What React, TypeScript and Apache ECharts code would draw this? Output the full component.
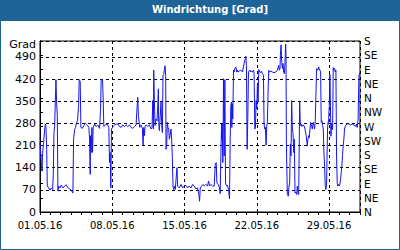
import React, { useEffect, useRef } from "react";
import * as echarts from "echarts";

const TITLE = "Windrichtung [Grad]";
const Y_NAME = "Grad";
const DATE_LABELS = ["01.05.16", "08.05.16", "15.05.16", "22.05.16", "29.05.16"];
const DIRECTIONS = ["N", "NE", "E", "SE", "S", "SW", "W", "NW", "N", "NE", "E", "SE", "S"];

// hours since 01.05.16 00:00
const hours = [
  0, 3.1, 4.6, 6.2, 8.5, 10.8, 12.4, 13.9, 15.5, 17.0, 20.1, 23.2, 26.3, 29.4, 31.0, 32.5, 34.0, 35.6, 37.1, 38.6,
  40.2, 41.7, 43.3, 46.4, 49.5, 53.3, 57.2, 61.1, 65.0, 68.8, 72.7, 76.5, 78.1, 80.4, 82.7, 85.0, 87.3, 89.7, 91.2, 93.5,
  95.1, 98.2, 102.0, 105.9, 109.8, 113.6, 115.2, 116.7, 117.5, 119.0, 120.6, 122.1, 123.7, 126.8, 130.6, 134.5, 138.4, 140.7, 142.2, 145.3,
  146.9, 148.4, 152.3, 156.1, 160.0, 161.6, 163.1, 164.7, 166.2, 170.1, 174.7, 180.9,
  184.8, 188.6, 192.5, 196.4, 200.2, 204.1, 208.0, 211.8, 215.7, 219.6, 223.4, 225.0, 227.3, 228.8, 230.4, 231.9, 235.0, 238.1,
  239.6, 241.2, 242.7, 244.3, 246.6, 250.5, 254.3, 258.2, 260.5, 262.1, 263.6, 264.4, 265.9, 267.5, 269.8, 272.1, 273.7, 275.2,
  276.0, 277.5, 279.1, 281.4, 283.0, 284.5, 286.0, 287.6, 289.1, 290.7, 292.2, 293.0, 294.5, 296.1, 297.6, 299.2, 300.7, 302.3,
  304.6, 306.1, 307.7, 309.2, 310.8, 312.3, 314.6, 316.2, 318.5, 320.0, 323.9, 327.8, 331.6, 335.5, 339.4, 343.2, 347.1, 351.0,
  354.8, 358.7, 362.6, 366.4, 369.5,
  371.0, 372.6, 375.7, 378.8, 381.9, 385.7, 389.6, 391.9, 394.2, 397.3, 401.2, 405.1, 407.4, 409.7, 411.2, 414.3, 417.4, 419.0,
  420.5, 422.1, 422.8, 423.6, 425.1, 426.7, 428.2, 429.8, 431.3, 433.7, 436.0, 438.3, 440.6, 442.2, 443.7, 445.2, 446.0, 446.8,
  448.3, 449.9, 451.4, 453.0, 455.3, 457.6, 459.2, 460.7, 463.0, 466.9, 470.8, 474.6, 478.5, 480.0, 481.6, 483.1, 484.7, 486.2,
  488.5, 490.1, 491.6, 494.0, 496.3, 497.8, 499.4, 500.9, 502.4, 504.0, 505.5, 507.1, 508.6, 510.9, 513.3, 514.8, 517.1, 519.5,
  521.0, 522.5, 524.1, 525.6, 527.2, 528.7, 530.3, 531.8, 534.1, 536.5, 540.3, 544.2, 548.1, 551.9, 555.0,
  556.5, 558.0, 558.9, 560.4, 562.0, 563.5, 565.0, 566.6, 568.1, 569.7, 571.2, 572.0, 572.8, 573.5, 575.1, 577.4, 579.0, 580.5,
  582.0, 583.6, 585.1, 586.7, 588.2, 589.8, 591.3, 592.9, 594.4, 596.7, 598.3, 599.8, 601.4, 602.9, 603.7, 605.2, 606.8, 609.1,
  611.4, 613.7, 616.1, 618.4, 619.9, 621.5, 623.0, 624.6, 626.1, 627.7, 629.2, 631.5, 633.1, 635.4, 636.9, 638.5, 640.0, 641.6,
  643.1, 644.7, 646.2, 647.8, 649.3, 650.8, 652.4, 653.9, 655.5, 657.0, 658.6, 660.1, 661.7, 663.2, 664.8, 666.3, 668.7, 671.0,
  672.6, 674.1, 676.4, 678.0, 680.3, 681.8, 683.3, 684.9, 686.4, 688.0, 689.5, 691.0, 692.6, 694.1, 695.7, 697.2, 698.8, 700.3,
  701.9, 703.4, 705.0, 706.5, 708.0, 709.6, 711.1, 714.2, 718.1, 722.0, 725.8, 729.7, 733.6, 735.9, 737.4, 739.5, 741.5, 743.5,
];

// wind direction in degrees (values above 360 continue the scale)
const directions = [
  220, 156, 129, 188, 220, 262, 278, 270, 198, 82, 76, 69, 76, 71, 124, 251, 270, 347, 418, 347,
  304, 66, 82, 76, 85, 76, 82, 86, 76, 73, 69, 60, 230, 260, 267, 283, 288, 336, 418, 412,
  267, 264, 273, 280, 275, 267, 230, 119, 241, 188, 267, 188, 267, 278, 270, 275, 264, 320, 418, 420,
  357, 270, 275, 278, 267, 156, 188, 76, 262, 270, 277, 278,
  270, 267, 275, 270, 275, 270, 275, 267, 264, 270, 275, 315, 362, 304, 283, 267, 275, 264,
  211, 267, 241, 270, 275, 270, 275, 262, 267, 352, 262, 448, 352, 273, 294, 288, 336, 389,
  283, 257, 294, 347, 273, 251, 432, 434, 448, 462, 432, 198, 209, 283, 267, 262, 230, 241,
  262, 230, 172, 82, 71, 82, 71, 103, 140, 82, 76, 87, 76, 82, 84, 76, 82, 76,
  87, 82, 73, 76, 55,
  34, 76, 82, 87, 82, 87, 82, 98, 82, 87, 82, 82, 151, 156, 92, 87, 76, 58,
  177, 278, 230, 278, 156, 421, 177, 418, 92, 82, 84, 71, 41, 230, 336, 347, 267, 342,
  294, 448, 442, 453, 458, 442, 448, 442, 445, 448, 442, 469, 492, 463, 198, 294, 442, 446,
  448, 442, 445, 442, 448, 437, 262, 267, 352, 326, 400, 347, 450, 442, 440, 445, 437, 432,
  278, 262, 267, 211, 273, 283, 379, 447, 442, 445, 442, 440, 442, 448, 463,
  448, 453, 495, 528, 474, 453, 469, 442, 437, 474, 530, 485, 230, 167, 55, 50, 82, 92,
  214, 177, 352, 262, 251, 188, 230, 60, 63, 55, 82, 60, 55, 230, 347, 273, 278, 270,
  275, 273, 262, 246, 246, 209, 230, 241, 235, 262, 283, 270, 262, 283, 273, 262, 288, 288,
  453, 453, 448, 458, 453, 453, 442, 283, 288, 273, 262, 188, 145, 82, 71, 92, 270, 292,
  334, 435, 239, 281, 260, 456, 448, 453, 442, 448, 177, 92, 82, 87, 82, 87, 103, 124,
  145, 182, 209, 230, 262, 270, 275, 278, 278, 275, 278, 275, 270, 278, 267, 290, 430, 440,
];

const FONT = "DejaVu Sans";
const BLUE_FRAME = "#1f6496";

export default function App() {
  const ref = useRef<HTMLDivElement>(null);

  useEffect(() => {
    if (!ref.current) return;
    const chart = echarts.init(ref.current, undefined, { renderer: "svg" });
    const data = hours.map((h, i) => [h, directions[i]]);

    chart.setOption({
      animation: false,
      backgroundColor: "#ffffff",
      title: {
        text: TITLE,
        left: 152,
        top: 4,
        padding: 0,
        textStyle: { color: "#ffffff", fontFamily: FONT, fontSize: 10, fontWeight: "bold" },
      },
      graphic: [
        { type: "rect", z: -1, shape: { x: 0, y: 0, width: 400, height: 21 }, style: { fill: BLUE_FRAME } },
        {
          type: "rect",
          z: 100,
          shape: { x: 0.5, y: 0.5, width: 399, height: 249 },
          style: { fill: "none", stroke: BLUE_FRAME, lineWidth: 1 },
        },
        {
          type: "text",
          x: 36,
          y: 44,
          style: {
            text: Y_NAME,
            fill: "#000",
            font: `11px "${FONT}"`,
            textAlign: "right",
            textVerticalAlign: "middle",
          },
        },
      ],
      grid: {
        left: 40,
        top: 41,
        width: 320,
        height: 171,
        show: true,
        borderColor: "#000",
        borderWidth: 1,
        backgroundColor: "transparent",
      },
      xAxis: [
        {
          type: "value",
          min: 0,
          max: 744,
          interval: 168,
          axisLine: { show: true, lineStyle: { color: "#000", width: 1 } },
          axisTick: { show: false },
          axisLabel: {
            showMaxLabel: false,
            margin: 8,
            color: "#000",
            fontFamily: FONT,
            fontSize: 10,
            formatter: (v: number) => DATE_LABELS[Math.round(v / 168)] ?? "",
          },
          splitLine: { show: true, lineStyle: { color: "#000", type: [3, 3], width: 1 } },
        },
        {
          type: "value",
          position: "bottom",
          min: 0,
          max: 744,
          interval: 24,
          axisLine: { show: false },
          axisTick: { show: true, inside: false, length: 3, lineStyle: { color: "#000" } },
          axisLabel: { show: false },
          splitLine: { show: false },
        },
      ],
      yAxis: [
        {
          type: "value",
          min: 0,
          max: 540,
          interval: 70,
          position: "left",
          axisLine: { show: true, lineStyle: { color: "#000", width: 1 } },
          axisTick: { show: false },
          axisLabel: { showMaxLabel: false, margin: 4, color: "#000", fontFamily: FONT, fontSize: 11 },
          splitLine: { show: true, lineStyle: { color: "#000", type: [3, 3], width: 1 } },
        },
        {
          type: "value",
          min: 0,
          max: 540,
          interval: 45,
          position: "right",
          axisLine: { show: true, lineStyle: { color: "#000", width: 1 } },
          axisTick: { show: true, inside: false, length: 3, lineStyle: { color: "#000" } },
          axisLabel: {
            margin: 4,
            color: "#000",
            fontFamily: FONT,
            fontSize: 10.5,
            formatter: (v: number) => DIRECTIONS[Math.round(v / 45)] ?? "",
          },
          splitLine: { show: false },
        },
      ],
      series: [
        {
          type: "line",
          xAxisIndex: 0,
          yAxisIndex: 0,
          data,
          showSymbol: false,
          symbol: "none",
          lineStyle: { color: "#1414f0", width: 1 },
        },
      ],
    });

    return () => chart.dispose();
  }, []);

  return (
    <div
      ref={ref}
      style={{ position: "absolute", left: 0, top: 0, width: 400, height: 250 }}
    />
  );
}
